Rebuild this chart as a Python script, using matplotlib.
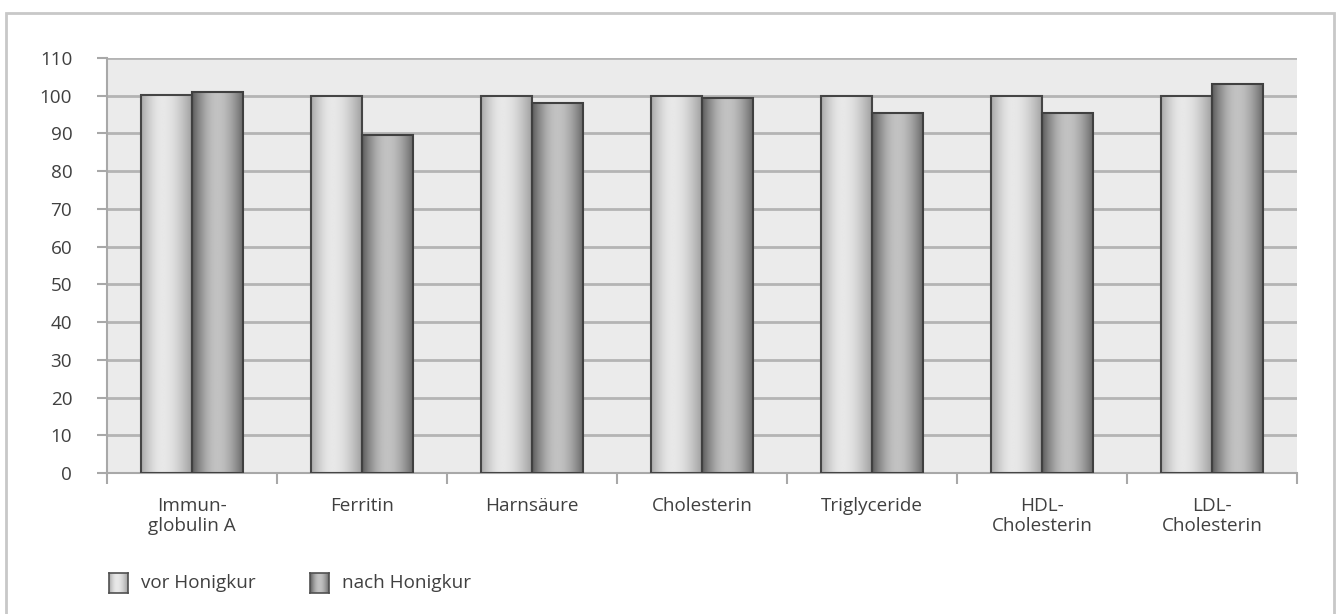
import numpy as np
import matplotlib.pyplot as plt
from matplotlib.patches import Rectangle

plt.rcParams['font.family'] = ['Open Sans', 'DejaVu Sans']

kategorien = ["Immun-\nglobulin A", "Ferritin", "Harnsäure", "Cholesterin",
              "Triglyceride", "HDL-\nCholesterin", "LDL-\nCholesterin"]
vor = [100.1, 100.0, 100.0, 100.0, 100.0, 99.9, 99.9]
nach = [101.1, 89.5, 98.1, 99.4, 95.3, 95.3, 103.2]
serien = ["vor Honigkur", "nach Honigkur"]

txt = "#404040"
fs = 13.6

def verlauf(lo, hi, peak, n=200):
    # zylinder-effekt, hell in der mitte
    t = np.linspace(0, 1, n)
    v = np.where(t < peak, lo[0] + (hi - lo[0]) * np.sin(t / peak * np.pi / 2),
                 lo[1] + (hi - lo[1]) * np.cos((t - peak) / (1 - peak) * np.pi / 2))
    return np.tile(v, (2, 1))

g_vor = verlauf((0.66, 0.63), 0.91, 0.42)
g_nach = verlauf((0.36, 0.42), 0.76, 0.5)

fig = plt.figure(figsize=(13.37, 6.14), dpi=100)
ax = fig.add_axes([107/1337, 1-473/614, 1190/1337, 415/614])
ax.set_facecolor("#ebebeb")

x = np.arange(len(kategorien))
w = 0.3
b1 = ax.bar(x - w/2, vor, w, facecolor="none", edgecolor="#454545", lw=1.5, zorder=3)
b2 = ax.bar(x + w/2, nach, w, facecolor="none", edgecolor="#404040", lw=1.5, zorder=3)
for bars, g in ((b1, g_vor), (b2, g_nach)):
    for r in bars:
        ax.imshow(g, cmap="gray", vmin=0, vmax=1, aspect="auto", zorder=2,
                  extent=(r.get_x(), r.get_x()+r.get_width(), 0, r.get_height()))

ax.set_xlim(-0.5, len(kategorien)-0.5)
ax.set_ylim(0, 110)
ax.set_yticks(np.arange(0, 111, 10))
ax.yaxis.grid(True, color="#b4b4b4", lw=2)
ax.set_axisbelow(True)
ax.set_xticks(x)
ax.set_xticklabels(kategorien, color=txt, fontsize=fs, linespacing=1.2)
ax.set_xticks(np.arange(-0.5, len(kategorien), 1), minor=True)
ax.tick_params(axis="x", which="major", length=0, pad=17)
ax.tick_params(axis="x", which="minor", length=8, width=1.5, color="#a8a8a8")
ax.tick_params(axis="y", length=7, width=1.5, color="#a8a8a8", labelsize=fs,
               labelcolor=txt, pad=18)
for s in ["top", "right"]:
    ax.spines[s].set_visible(False)
for s in ["left", "bottom"]:
    ax.spines[s].set_color("#a8a8a8")
    ax.spines[s].set_linewidth(1.5)

# legende
for i, (name, g) in enumerate(zip(serien, (g_vor, g_nach))):
    x0 = 109 + i*201
    la = fig.add_axes([x0/1337, 1-593/614, 19/1337, 20/614])
    la.imshow(g, cmap="gray", vmin=0, vmax=1, aspect="auto")
    la.set_xticks([]); la.set_yticks([])
    for s in la.spines.values():
        s.set_color("#505050"); s.set_linewidth(1.2)
    fig.text((x0+32)/1337, 1-583/614, name, color=txt, fontsize=fs, va="center")

fig.patches.append(Rectangle((6/1337, -0.1), 1328/1337, 1.1-13/614, transform=fig.transFigure,
                             fill=False, edgecolor="#c8c8c8", lw=2))

fig.savefig("out.png", dpi=100)
